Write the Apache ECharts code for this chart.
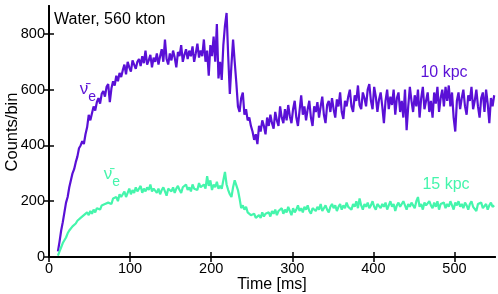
<!DOCTYPE html>
<html><head><meta charset="utf-8">
<script src="https://cdn.jsdelivr.net/npm/echarts@6/dist/echarts.min.js"></script>
<style>html,body{margin:0;padding:0;background:#fff}#c{width:498px;height:294px}</style>
</head><body><div id="c"></div>
<script>
// time of first bin and bin step (ms)
const tStart = 11;
const tStep = 2;
const xTicks = [0, 100, 200, 300, 400, 500];
const yTicks = [0, 200, 400, 600, 800];
const purple10kpc = [
20,55,95,125,160,195,215,250,275,300,
315,340,360,390,400,415,405,440,465,510,
490,515,540,525,555,570,550,585,595,575,
610,620,555,605,630,615,650,630,660,645,
670,690,655,700,680,665,705,690,675,700,
710,685,720,695,740,690,705,725,680,715,
700,730,690,720,745,700,780,710,690,730,
705,740,715,680,735,720,760,700,725,745,
710,740,720,755,700,730,765,715,740,720,
780,700,740,650,760,720,790,700,835,640,
700,635,760,830,875,720,585,690,780,700,
625,540,520,570,590,510,530,490,500,470,
450,420,440,405,470,450,490,470,440,500,
470,510,480,460,520,490,470,540,500,480,
530,490,545,505,480,530,560,500,470,525,
580,510,540,490,530,560,500,470,540,520,
555,500,540,575,510,480,545,560,520,570,
530,500,565,540,590,520,495,560,540,575,
600,540,520,580,560,615,545,530,590,570,
540,600,620,560,530,610,575,520,565,590,
540,480,560,600,530,575,545,600,510,570,
590,520,560,500,600,455,540,610,560,520,
580,540,600,500,570,610,530,560,590,520,
560,500,590,550,610,520,570,600,540,610,
560,615,540,590,500,450,560,590,530,570,
600,540,510,580,560,610,530,560,600,540,
500,570,590,520,600,550,480,570,540,580
];
const green15kpc = [
5,20,35,50,60,70,85,95,100,110,
105,120,130,125,140,135,150,145,160,150,
165,155,170,160,175,180,170,185,180,190,
185,195,200,190,210,205,215,200,225,215,
220,235,215,230,245,225,240,230,250,235,
240,255,230,245,235,250,240,260,235,245,
250,230,245,225,240,250,235,220,245,240,
235,250,230,245,255,240,230,250,245,260,
240,250,235,260,245,250,240,265,250,245,
260,245,290,255,275,240,260,250,270,245,
255,245,275,305,260,240,225,215,250,275,
270,240,210,175,185,170,180,160,165,150,
145,155,140,135,150,140,160,145,155,150,
160,145,165,155,170,150,165,160,175,155,
170,160,180,165,150,175,160,170,185,165,
175,160,180,170,185,165,155,175,180,165,
180,170,190,165,175,185,170,160,180,190,
175,185,165,180,190,170,185,175,195,180,
185,170,190,180,200,175,210,185,170,190,
180,195,175,185,200,180,170,190,185,175,
190,180,195,170,185,200,180,190,165,185,
195,180,175,200,185,170,190,180,195,185,
175,200,215,180,190,170,195,185,180,200,
185,175,195,180,200,170,190,185,195,175,
190,180,200,185,170,195,185,200,180,190,
175,195,185,170,190,200,180,185,165,190,
185,195,175,180,190,170,185,195,180,185
];
const PURPLE = '#5a10d6';
const GREEN = '#45f5ac';
const FONT = '"Liberation Sans", Arial, Helvetica, sans-serif';

function pairs(arr){ return arr.map((v,i)=>[tStart + i*tStep, v]); }

const chart = echarts.init(document.getElementById('c'), null, {renderer:'canvas'});
const axisLine = {show:true, lineStyle:{color:'#000', width:2}};
const tickStyle = {lineStyle:{color:'#000', width:1.5}};
chart.setOption({
  animation:false,
  grid:{left:49, right:3, top:6, bottom:37, containLabel:false},
  xAxis:[
    {type:'value', min:0, max:550, interval:100, position:'bottom',
     axisLine:axisLine, splitLine:{show:false},
     axisTick:Object.assign({inside:true, length:5, customValues:xTicks}, tickStyle),
     axisLabel:{customValues:xTicks, color:'#000', fontSize:14.5, fontFamily:FONT, margin:4}},
    {type:'value', min:0, max:550, interval:100, position:'top',
     axisLine:axisLine, splitLine:{show:false},
     axisTick:Object.assign({inside:true, length:5, customValues:xTicks}, tickStyle),
     axisLabel:{show:false}}
  ],
  yAxis:[
    {type:'value', min:0, max:900, interval:200, position:'left',
     axisLine:axisLine, splitLine:{show:false},
     axisTick:Object.assign({inside:true, length:5, customValues:yTicks}, tickStyle),
     axisLabel:{customValues:yTicks, color:'#000', fontSize:14.5, fontFamily:FONT, margin:4}},
    {type:'value', min:0, max:900, interval:200, position:'right',
     axisLine:axisLine, splitLine:{show:false},
     axisTick:Object.assign({inside:true, length:5, customValues:yTicks}, tickStyle),
     axisLabel:{show:false}}
  ],
  series:[
    {type:'line', data:pairs(purple10kpc), showSymbol:false, xAxisIndex:0, yAxisIndex:0,
     lineStyle:{color:PURPLE, width:2.2}, itemStyle:{color:PURPLE}},
    {type:'line', data:pairs(green15kpc), showSymbol:false, xAxisIndex:0, yAxisIndex:0,
     lineStyle:{color:GREEN, width:2.2}, itemStyle:{color:GREEN}}
  ],
  graphic:[
    {type:'text', left:54, top:12, style:{text:'Water, 560 kton', fill:'#000', font:'16px '+FONT}},
    {type:'text', x:12, y:132, rotation:Math.PI/2,
     style:{text:'Counts/bin', fill:'#000', font:'16.5px '+FONT, align:'center', verticalAlign:'middle'}},
    {type:'text', x:272, y:285, style:{text:'Time [ms]', fill:'#000', font:'16px '+FONT, align:'center', verticalAlign:'middle'}},
    {type:'text', x:444, y:73, style:{text:'10 kpc', fill:PURPLE, font:'16px '+FONT, align:'center', verticalAlign:'middle'}},
    {type:'text', x:446, y:185, style:{text:'15 kpc', fill:GREEN, font:'16px '+FONT, align:'center', verticalAlign:'middle'}},
    {type:'text', x:88, y:92, style:{text:'{a|ν̄}{b|e}', fill:PURPLE, font:'16px '+FONT, align:'center', verticalAlign:'middle',
      rich:{a:{fontSize:17, fontFamily:FONT, fill:PURPLE, padding:[0,0,6,0]}, b:{fontSize:14, fontFamily:FONT, fill:PURPLE, padding:[10,0,0,0]}}}},
    {type:'text', x:112, y:177, style:{text:'{a|ν̄}{b|e}', fill:GREEN, font:'16px '+FONT, align:'center', verticalAlign:'middle',
      rich:{a:{fontSize:17, fontFamily:FONT, fill:GREEN, padding:[0,0,6,0]}, b:{fontSize:14, fontFamily:FONT, fill:GREEN, padding:[10,0,0,0]}}}}
  ]
});
</script></body></html>
